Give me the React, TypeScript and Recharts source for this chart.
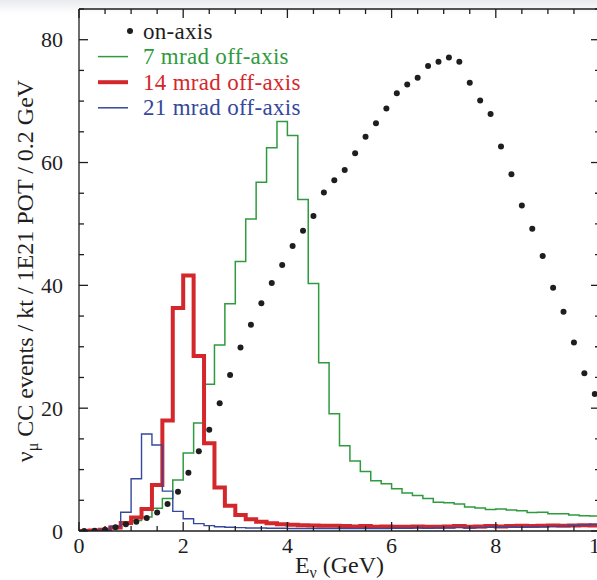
import React from 'react';
import { ComposedChart, Line, Scatter, XAxis, YAxis, Legend, Label } from 'recharts';

// 0.2 GeV bins from 0 to 10 GeV
const binEdges = Array.from({ length: 51 }, (_, i) => Math.round(i * 2) / 10);
const binCenters = binEdges.slice(0, 50).map((e) => Math.round((e + 0.1) * 10) / 10);

const onAxis = [
  0, 0.05, 0.2, 0.6, 1.1, 1.5, 2.1, 3.0, 4.4, 6.4,
  9.5, 13.0, 16.5, 20.8, 25.4, 29.9, 33.6, 37.1, 40.4, 43.3,
  46.4, 48.9, 51.3, 55.1, 57.1, 58.8, 61.5, 64.2, 66.4, 68.8,
  71.3, 72.7, 73.8, 75.7, 76.4, 77.1, 76.4, 73.0, 70.1, 67.9,
  62.6, 58.1, 53.0, 49.2, 44.8, 39.6, 35.7, 30.7, 25.7, 22.3,
];

const mrad7 = [
  0, 0.1, 0.3, 0.7, 1.2, 1.7, 2.3, 3.7, 5.3, 8.3,
  12.7, 17.6, 23.9, 30.3, 37.0, 43.9, 50.8, 56.8, 62.4, 66.7,
  64.4, 54.0, 40.3, 27.4, 19.1, 13.9, 11.4, 9.7, 8.2, 7.7,
  6.9, 6.2, 5.8, 5.3, 4.7, 4.6, 4.4, 3.9, 3.75, 3.5,
  3.6, 3.4, 3.3, 3.0, 3.05, 2.8, 2.8, 2.6, 2.5, 2.45,
];

const mrad14 = [
  0, 0.1, 0.2, 0.55, 1.3, 2.2, 3.6, 7.5, 18.0, 36.3,
  41.6, 28.5, 14.3, 7.1, 4.1, 2.6, 1.9, 1.5, 1.25, 1.1,
  1.0, 0.95, 0.9, 0.85, 0.85, 0.8, 0.75, 0.8, 0.7, 0.75,
  0.7, 0.7, 0.75, 0.7, 0.7, 0.75, 0.8, 0.7, 0.75, 0.8,
  0.75, 0.8, 0.85, 0.8, 0.85, 0.9, 0.85, 0.9, 0.95, 0.9,
];

const mrad21 = [
  0, 0.05, 0.2, 0.8, 3.05, 8.5, 15.8, 14.0, 6.5, 3.2,
  2.0, 1.2, 0.87, 0.7, 0.6, 0.55, 0.5, 0.5, 0.45, 0.45,
  0.4, 0.4, 0.4, 0.4, 0.4, 0.4, 0.4, 0.4, 0.4, 0.4,
  0.45, 0.45, 0.5, 0.45, 0.5, 0.5, 0.55, 0.5, 0.55, 0.6,
  0.6, 0.65, 0.6, 0.7, 0.7, 0.75, 0.8, 0.9, 1.0, 1.1,
];

const xTicks = [0, 0.5, 1, 1.5, 2, 2.5, 3, 3.5, 4, 4.5, 5, 5.5, 6, 6.5, 7, 7.5, 8, 8.5, 9, 9.5, 10];
const xLabels = [0, 2, 4, 6, 8, 10];
const yTicks = [0, 5, 10, 15, 20, 25, 30, 35, 40, 45, 50, 55, 60, 65, 70, 75, 80, 85];
const yLabels = [0, 20, 40, 60, 80];

const GREEN = '#2f9a3e';
const RED = '#d4272b';
const BLUE = '#34489c';
const INK = '#1e1e1e';
const FONT = '"Liberation Serif", "DejaVu Serif", serif';

const histData = binEdges.map((x, i) => ({
  x,
  green: mrad7[Math.min(i, 49)],
  red: mrad14[Math.min(i, 49)],
  blue: mrad21[Math.min(i, 49)],
}));

const dotData = binCenters.map((x, i) => ({ x, y: onAxis[i] }));

function BottomTick(props: any) {
  const { x, y, payload } = props;
  const major = xLabels.includes(payload.value);
  return (
    <g>
      <line x1={x} x2={x} y1={y} y2={y - (major ? 9 : 5)} stroke={INK} strokeWidth={1.3} />
      {major && (
        <text x={x} y={y + 22} textAnchor="middle" fontSize={22} fontFamily={FONT} fill={INK}>
          {payload.value}
        </text>
      )}
    </g>
  );
}

function TopTick(props: any) {
  const { x, y, payload } = props;
  const major = xLabels.includes(payload.value);
  return <line x1={x} x2={x} y1={y} y2={y + (major ? 9 : 5)} stroke={INK} strokeWidth={1.3} />;
}

function LeftTick(props: any) {
  const { x, y, payload } = props;
  const major = yLabels.includes(payload.value);
  return (
    <g>
      <line x1={x} x2={x + (major ? 9 : 5)} y1={y} y2={y} stroke={INK} strokeWidth={1.3} />
      {major && (
        <text x={x - 16} y={y + 7.5} textAnchor="end" fontSize={22} fontFamily={FONT} fill={INK}>
          {payload.value}
        </text>
      )}
    </g>
  );
}

function RightTick(props: any) {
  const { x, y, payload } = props;
  const major = yLabels.includes(payload.value);
  return <line x1={x} x2={x - (major ? 9 : 5)} y1={y} y2={y} stroke={INK} strokeWidth={1.3} />;
}

const renderXLabel = (props: any) => {
  const vb = props.viewBox || { x: 79, width: 521 };
  const cx = vb.x + vb.width / 2;
  return (
    <text x={cx} y={573} textAnchor="middle" fontSize={24} fontFamily={FONT} fill={INK}>
      E
      <tspan fontSize={16} dy={5}>ν</tspan>
      <tspan dy={-5}> (GeV)</tspan>
    </text>
  );
};

const renderYLabel = () => (
  <text transform="translate(33, 271) rotate(-90)" textAnchor="middle" fontSize={24} fontFamily={FONT} fill={INK}>
    ν
    <tspan fontSize={16} dy={5}>μ</tspan>
    <tspan dy={-5}> CC events / kt / 1E21 POT / 0.2 GeV</tspan>
  </text>
);

const legendItems = [
  { label: 'on-axis', color: INK, kind: 'dot', width: 0 },
  { label: '7 mrad off-axis', color: GREEN, kind: 'line', width: 1.5 },
  { label: '14 mrad off-axis', color: RED, kind: 'line', width: 4 },
  { label: '21 mrad off-axis', color: BLUE, kind: 'line', width: 1.5 },
];

const renderLegend = () => (
  <svg width={320} height={120} style={{ display: 'block' }}>
    {legendItems.map((item, i) => {
      const cy = 16 + i * 25.6;
      return (
        <g key={item.label}>
          {item.kind === 'dot' ? (
            <circle cx={40} cy={cy} r={3} fill={INK} />
          ) : (
            <line x1={8} x2={38} y1={cy} y2={cy} stroke={item.color} strokeWidth={item.width} />
          )}
          <text x={53} y={cy + 7.5} fontSize={23} letterSpacing={0.3} fontFamily={FONT} fill={item.color}>
            {item.label}
          </text>
        </g>
      );
    })}
  </svg>
);

export default function App() {
  return (
    <div
      style={{
        position: 'absolute',
        left: 0,
        top: 0,
        width: 597,
        height: 580,
        overflow: 'hidden',
        background: 'linear-gradient(#e9ebef 0px, #ffffff 14px)',
      }}
    >
      <ComposedChart
        width={640}
        height={580}
        data={histData}
        margin={{ top: 8, right: 39, bottom: 0, left: 0 }}
      >
        <XAxis
          dataKey="x"
          type="number"
          domain={[0, 10]}
          ticks={xTicks}
          interval={0}
          height={49}
          tickSize={0}
          tickMargin={0}
          tickLine={false}
          tick={<BottomTick />}
          axisLine={{ stroke: INK, strokeWidth: 1.3 }}
          allowDataOverflow
        >
          <Label content={renderXLabel} />
        </XAxis>
        <XAxis
          xAxisId="top"
          orientation="top"
          dataKey="x"
          type="number"
          domain={[0, 10]}
          ticks={xTicks}
          interval={0}
          height={1}
          tickSize={0}
          tickMargin={0}
          tickLine={false}
          tick={<TopTick />}
          axisLine={{ stroke: INK, strokeWidth: 1.3 }}
          allowDataOverflow
        />
        <YAxis
          type="number"
          domain={[0, 85]}
          ticks={yTicks}
          interval={0}
          width={79}
          tickSize={0}
          tickMargin={0}
          tickLine={false}
          tick={<LeftTick />}
          axisLine={{ stroke: INK, strokeWidth: 1.3 }}
          allowDataOverflow
        >
          <Label content={renderYLabel} />
        </YAxis>
        <YAxis
          yAxisId="right"
          orientation="right"
          type="number"
          domain={[0, 85]}
          ticks={yTicks}
          interval={0}
          width={1}
          tickSize={0}
          tickMargin={0}
          tickLine={false}
          tick={<RightTick />}
          axisLine={{ stroke: INK, strokeWidth: 1.3 }}
          allowDataOverflow
        />
        <Legend
          content={renderLegend}
          layout="horizontal"
          align="center"
          verticalAlign="middle"
          wrapperStyle={{ left: 90, top: 15, width: 320, height: 120 }}
        />
        <Line
          type="stepAfter"
          dataKey="green"
          stroke={GREEN}
          strokeWidth={1.5}
          strokeLinejoin="miter"
          dot={false}
          activeDot={false}
          isAnimationActive={false}
        />
        <Line
          type="stepAfter"
          dataKey="red"
          stroke={RED}
          strokeWidth={4}
          strokeLinejoin="miter"
          dot={false}
          activeDot={false}
          isAnimationActive={false}
        />
        <Line
          type="stepAfter"
          dataKey="blue"
          stroke={BLUE}
          strokeWidth={1.4}
          strokeLinejoin="miter"
          dot={false}
          activeDot={false}
          isAnimationActive={false}
        />
        <Scatter
          data={dotData}
          dataKey="y"
          fill={INK}
          isAnimationActive={false}
          shape={(p: any) => <circle cx={p.cx} cy={p.cy} r={3} fill={INK} />}
        />
      </ComposedChart>
    </div>
  );
}
